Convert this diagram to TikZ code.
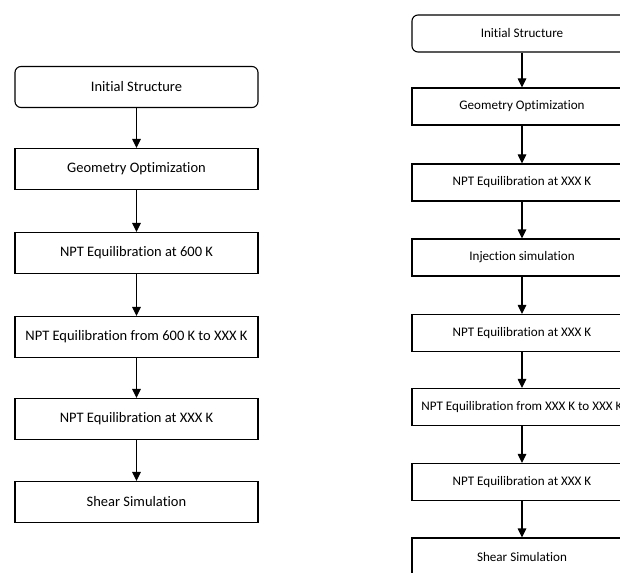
\documentclass[tikz,border=0pt]{standalone}
\usepackage{fontspec}
\setmainfont[Ligatures=NoCommon]{Carlito}
\usetikzlibrary{arrows.meta}
\begin{document}
\begin{tikzpicture}[x=1pt,y=-1pt,
  boxl/.style={draw,line width=1.1pt,minimum width=243pt,minimum height=41pt,inner sep=0pt,font=\fontsize{14.5}{16}\selectfont},
  boxr/.style={draw,line width=1.1pt,minimum width=220pt,minimum height=37pt,inner sep=0pt,font=\fontsize{13.1}{15}\selectfont},
  arr/.style={line width=1.1pt,-{Triangle[length=9pt,width=8.5pt]}}]
\clip (0,0) rectangle (620,572);
\fill[white] (0,0) rectangle (620,572);
% left column
\node[boxl,rounded corners=6pt] (l1) at (136.5,87) {Initial Structure};
\node[boxl] (l2) at (136.5,169) {Geometry Optimization};
\node[boxl] (l3) at (136.5,253) {NPT Equilibration at 600 K};
\node[boxl] (l4) at (136.5,337) {NPT Equilibration from 600 K to XXX K};
\node[boxl] (l5) at (136.5,419) {NPT Equilibration at XXX K};
\node[boxl] (l6) at (136.5,502) {Shear Simulation};
\foreach \a/\b in {l1/l2,l2/l3,l3/l4,l4/l5,l5/l6}
  \draw[arr] (\a) -- (\b);
% right column
\node[boxr,rounded corners=6pt] (r1) at (522,33.5) {Initial Structure};
\node[boxr] (r2) at (522,106.5) {Geometry Optimization};
\node[boxr] (r3) at (522,182.5) {NPT Equilibration at XXX K};
\node[boxr] (r4) at (522,257.5) {Injection simulation};
\node[boxr] (r5) at (522,333) {NPT Equilibration at XXX K};
\node[boxr] (r6) at (522,407) {NPT Equilibration from XXX K to XXX K};
\node[boxr] (r7) at (522,482) {NPT Equilibration at XXX K};
\node[boxr] (r8) at (522,556.5) {Shear Simulation};
\foreach \a/\b in {r1/r2,r2/r3,r3/r4,r4/r5,r5/r6,r6/r7,r7/r8}
  \draw[arr] (\a) -- (\b);
\end{tikzpicture}
\end{document}
